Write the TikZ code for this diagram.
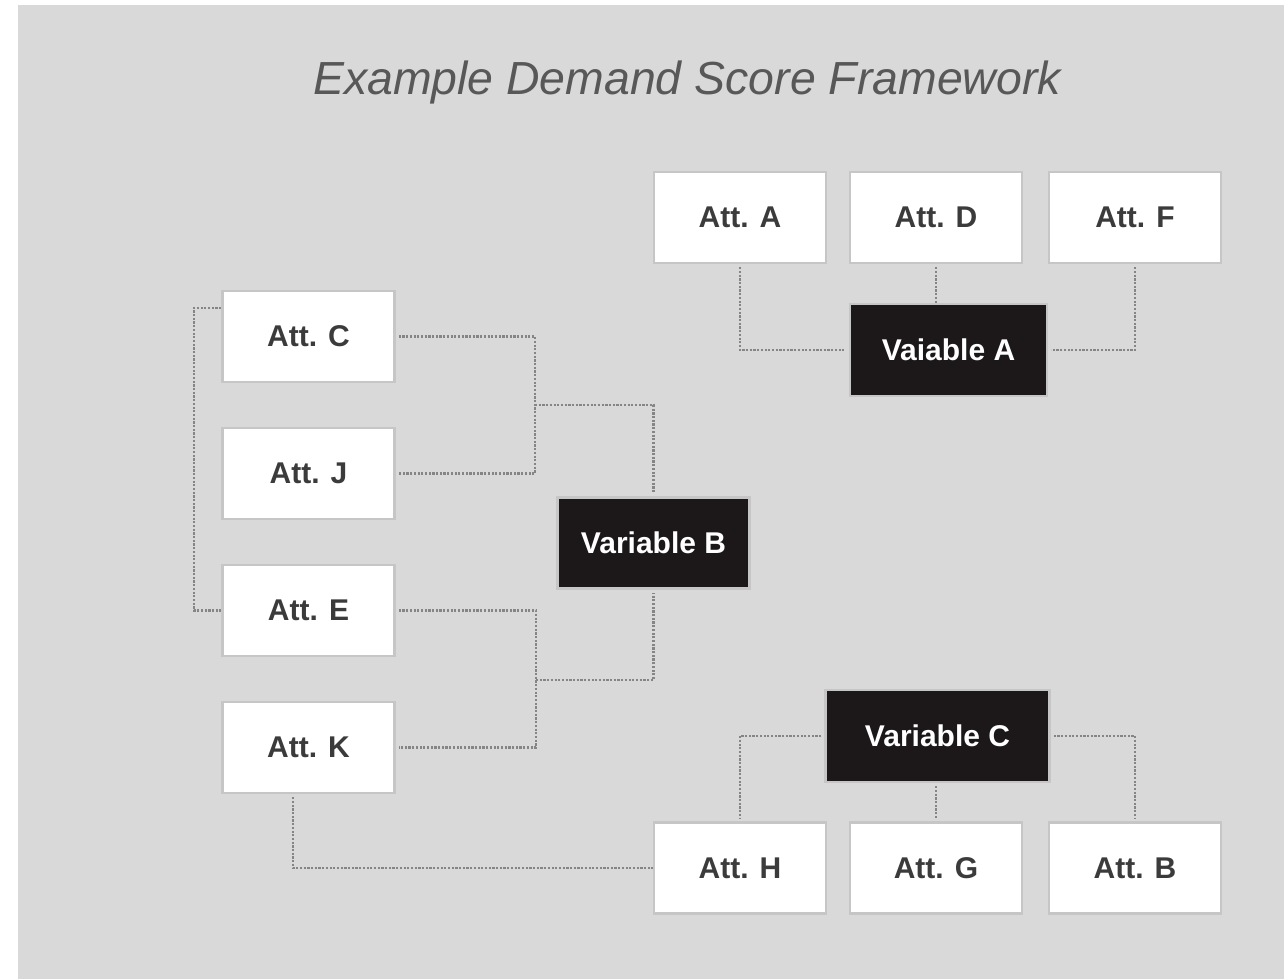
\documentclass[tikz,border=0pt]{standalone}
\usepackage{fontspec}
\setmainfont{Liberation Sans}
\definecolor{bgGray}{HTML}{D9D9D9}
\definecolor{boxLine}{HTML}{C6C6C6}
\definecolor{attText}{HTML}{3B3B3B}
\definecolor{varFill}{HTML}{1C1819}
\definecolor{linkGray}{HTML}{858585}
\definecolor{titleGray}{HTML}{585858}
\begin{document}
\begin{tikzpicture}[x=1pt,y=-1pt,
  attbox/.style={draw=boxLine, line width=2.5pt, fill=white,
    minimum width=172pt, minimum height=91pt, inner sep=0pt,
    font=\fontsize{30}{36}\selectfont\bfseries, text=attText},
  varbox/.style={attbox, fill=varFill, text=white},
  link/.style={draw=linkGray, line width=2.4pt, dash pattern=on 2.2pt off 1.5pt},
  gapstart/.style={shorten <=3pt},
  gapend/.style={shorten >=3pt}]
\useasboundingbox (0,0) rectangle (1284,979);
\fill[bgGray] (18,5) rectangle (1284,979);

% title
\node[anchor=base, font=\fontsize{46.4}{54}\selectfont\itshape, text=titleGray,
  inner sep=0pt] (title) at (687,95) {Example Demand Score Framework};

% top group
\node[attbox] (attA) at (740,217.5) {Att. A};
\node[attbox] (attD) at (936,217.5) {Att. D};
\node[attbox] (attF) at (1135,217.5) {Att. F};
\node[varbox, minimum width=197pt, minimum height=92pt] (varA) at (948.5,350) {Vaiable A};

% left column
\node[attbox] (attC) at (308.5,336.5) {Att. C};
\node[attbox] (attJ) at (308.5,473.5) {Att. J};
\node[attbox] (attE) at (308.5,610.5) {Att. E};
\node[attbox] (attK) at (308.5,747.5) {Att. K};
\node[varbox, minimum width=192pt, minimum height=91pt] (varB) at (653.5,543) {Variable B};

% bottom group
\node[varbox, minimum width=224pt, minimum height=92pt] (varC) at (937.5,736) {Variable C};
\node[attbox] (attH) at (740,868) {Att. H};
\node[attbox] (attG) at (936,868) {Att. G};
\node[attbox] (attB) at (1135,868) {Att. B};

% junction points
\coordinate (jCJ) at (535,405);
\coordinate (jEK) at (536,680);
\coordinate (lft) at (194,308);

% connectors: variable A
\draw[link, gapstart, gapend] (attA.south) |- (varA.west);
\draw[link, gapstart] (attD.south) -- (attD.south |- varA.north);
\draw[link, gapstart, gapend] (attF.south) |- (varA.east);

% connectors: variable B
\draw[link, gapstart, gapend] (attC.east) -| (jCJ) |- (attJ.east);
\draw[link, gapend] (jCJ) -| (varB.north);
\draw[link, gapstart, gapend] (attE.east) -| (jEK) |- (attK.east);
\draw[link, gapend] (jEK) -| (varB.south);
\draw[link] (attC.west |- lft) -- (lft) |- (attE.west);

% connectors: variable C
\draw[link, gapstart] ([xshift=-15.5pt]attK.south) |- (attH.west);
\draw[link, gapstart, gapend] (varC.west) -| (attH.north);
\draw[link, gapstart, gapend] (varC.south -| attG.north) -- (attG.north);
\draw[link, gapstart, gapend] (varC.east) -| (attB.north);
\end{tikzpicture}
\end{document}
